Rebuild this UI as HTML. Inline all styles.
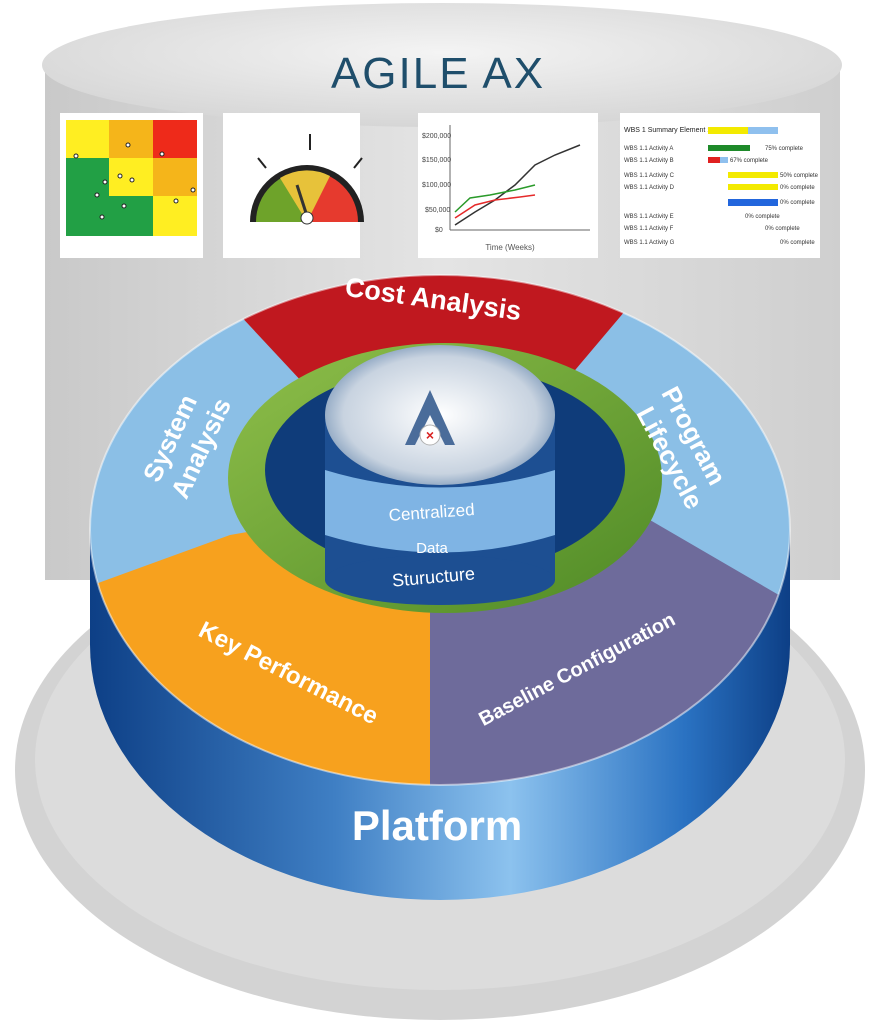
<!DOCTYPE html>
<html><head><meta charset="utf-8"><style>
html,body{margin:0;padding:0;background:#fff;}
svg{display:block;font-family:"Liberation Sans",sans-serif;}
</style></head><body>
<svg width="881" height="1024" viewBox="0 0 881 1024" xmlns="http://www.w3.org/2000/svg">
<defs>
<linearGradient id="cyl" x1="0" x2="1" y1="0" y2="0">
<stop offset="0" stop-color="#c9c9c9"/><stop offset="0.5" stop-color="#e4e4e4"/><stop offset="1" stop-color="#cfcfcf"/></linearGradient>
<radialGradient id="top" cx="0.5" cy="0.4" r="0.6"><stop offset="0" stop-color="#f4f4f4"/><stop offset="1" stop-color="#d6d6d6"/></radialGradient>
<linearGradient id="side" x1="0" x2="1"><stop offset="0" stop-color="#0d3f86"/><stop offset="0.35" stop-color="#3f7fc4"/><stop offset="0.6" stop-color="#8cc2ee"/><stop offset="0.85" stop-color="#2a72c2"/><stop offset="1" stop-color="#0d3f86"/></linearGradient>
<linearGradient id="green" x1="0" x2="1" y1="0" y2="1"><stop offset="0" stop-color="#8fbf4a"/><stop offset="1" stop-color="#4f8a26"/></linearGradient>
<radialGradient id="ctop" cx="0.5" cy="0.5" r="0.6"><stop offset="0" stop-color="#ffffff"/><stop offset="0.7" stop-color="#c8d3e0"/><stop offset="1" stop-color="#5b7fa8"/></radialGradient>
<clipPath id="face"><ellipse cx="440" cy="530" rx="350" ry="255"/></clipPath>
</defs>
<ellipse cx="440" cy="770" rx="425" ry="250" fill="#d3d3d3"/>
<ellipse cx="440" cy="760" rx="405" ry="230" fill="#dcdcdc"/>
<rect x="45" y="60" width="795" height="520" fill="url(#cyl)"/>
<ellipse cx="442" cy="65" rx="400" ry="62" fill="url(#top)"/>
<text x="438" y="88" text-anchor="middle" font-size="44" fill="#1f4e6b" letter-spacing="2">AGILE AX</text>
<rect x="60" y="113" width="143" height="145" fill="#fff"/>
<g>
<rect x="66" y="120" width="43" height="38" fill="#ffee22"/><rect x="109" y="120" width="44" height="38" fill="#f5b51a"/><rect x="153" y="120" width="44" height="38" fill="#ee2a1a"/>
<rect x="66" y="158" width="43" height="38" fill="#22a045"/><rect x="109" y="158" width="44" height="38" fill="#ffee22"/><rect x="153" y="158" width="44" height="38" fill="#f5b51a"/>
<rect x="66" y="196" width="43" height="40" fill="#22a045"/><rect x="109" y="196" width="44" height="40" fill="#22a045"/><rect x="153" y="196" width="44" height="40" fill="#ffee22"/>
<g fill="#fff" stroke="#222" stroke-width="1"><circle cx="76" cy="156" r="2"/><circle cx="128" cy="145" r="2"/><circle cx="120" cy="176" r="2"/><circle cx="132" cy="180" r="2"/><circle cx="105" cy="182" r="2"/><circle cx="97" cy="195" r="2"/><circle cx="124" cy="206" r="2"/><circle cx="102" cy="217" r="2"/><circle cx="162" cy="154" r="2"/><circle cx="176" cy="201" r="2"/><circle cx="193" cy="190" r="2"/></g>
</g>
<rect x="223" y="113" width="137" height="145" fill="#fff"/>
<path d="M250 222 A57 57 0 0 1 364 222 Z" fill="#222"/>
<path d="M256 222 A51 51 0 0 1 307 171 L307 222Z" fill="#6ea32a"/>
<path d="M307 171 A51 51 0 0 1 358 222 L307 222Z" fill="#e63a2e"/>
<path d="M280 178 A51 51 0 0 1 330 176 L307 222Z" fill="#e7c23a"/>
<g stroke="#222" stroke-width="2"><line x1="258" y1="158" x2="266" y2="168"/><line x1="310" y1="134" x2="310" y2="150"/><line x1="362" y1="158" x2="354" y2="168"/></g>
<line x1="307" y1="216" x2="297" y2="185" stroke="#333" stroke-width="3"/>
<circle cx="307" cy="218" r="6" fill="#fff" stroke="#333"/>
<rect x="418" y="113" width="180" height="145" fill="#fff"/>
<line x1="450" y1="125" x2="450" y2="230" stroke="#666"/><line x1="450" y1="230" x2="590" y2="230" stroke="#666"/>
<g font-size="7" fill="#444"><text x="422" y="138">$200,000</text><text x="422" y="162">$150,000</text><text x="422" y="187">$100,000</text><text x="425" y="212">$50,000</text><text x="435" y="232">$0</text></g>
<polyline points="455,225 475,212 495,200 515,185 535,165 555,155 580,145" fill="none" stroke="#333" stroke-width="1.5"/>
<polyline points="455,212 470,198 490,195 515,190 535,185" fill="none" stroke="#2a9a2a" stroke-width="1.5"/>
<polyline points="455,218 475,205 495,200 520,197 535,195" fill="none" stroke="#e52a2a" stroke-width="1.5"/>
<text x="510" y="250" font-size="8" fill="#555" text-anchor="middle">Time (Weeks)</text>
<rect x="620" y="113" width="200" height="145" fill="#fff"/>
<text x="624" y="132" font-size="7" fill="#222">WBS 1 Summary Element 1</text>
<rect x="708" y="127" width="40" height="7" fill="#f3ea00"/><rect x="748" y="127" width="30" height="7" fill="#8fc0ee"/>
<rect x="708" y="145" width="42" height="6" fill="#1e8a2a"/><rect x="708" y="157" width="12" height="6" fill="#e02020"/><rect x="720" y="157" width="8" height="6" fill="#8fc0ee"/>
<rect x="728" y="172" width="50" height="6" fill="#f3ea00"/><rect x="728" y="184" width="50" height="6" fill="#f3ea00"/>
<rect x="728" y="199" width="50" height="7" fill="#2266dd"/>
<g font-size="6" fill="#333"><text x="624" y="150">WBS 1.1 Activity A</text>
<text x="624" y="162">WBS 1.1 Activity B</text>
<text x="624" y="177">WBS 1.1 Activity C</text>
<text x="624" y="189">WBS 1.1 Activity D</text>
<text x="624" y="218">WBS 1.1 Activity E</text>
<text x="624" y="230">WBS 1.1 Activity F</text>
<text x="624" y="244">WBS 1.1 Activity G</text>
<text x="765" y="150">75% complete</text><text x="730" y="162">67% complete</text><text x="780" y="177">50% complete</text><text x="780" y="189">0% complete</text><text x="780" y="204">0% complete</text><text x="745" y="218">0% complete</text><text x="765" y="230">0% complete</text><text x="780" y="244">0% complete</text></g>
<!-- ring side -->
<ellipse cx="440" cy="645" rx="350" ry="255" fill="url(#side)"/>
<rect x="90" y="530" width="700" height="115" fill="url(#side)"/>
<g clip-path="url(#face)">
<rect x="0" y="200" width="881" height="700" fill="#8bbfe6"/>
<polygon points="440,530 86,150 761,150" fill="#c0181f"/>
<polygon points="430,500 230,535 -300,728 -300,1000 430,1000" fill="#f7a11e"/>
<polygon points="430,500 650,520 1100,782 1100,1000 430,1000" fill="#6e6b9b"/>
</g>
<ellipse cx="440" cy="530" rx="350" ry="255" fill="none" stroke="#ffffff" stroke-width="2" opacity="0.5"/>
<ellipse cx="445" cy="478" rx="217" ry="135" fill="url(#green)"/>
<ellipse cx="445" cy="470" rx="180" ry="105" fill="#0f3c7a"/>
<rect x="325" y="420" width="230" height="160" fill="#1d4f92"/>
<ellipse cx="440" cy="580" rx="115" ry="25" fill="#1d4f92"/>
<path d="M325 470 Q440 505 555 470 L555 535 Q440 570 325 535Z" fill="#7fb4e4"/>
<ellipse cx="440" cy="415" rx="115" ry="70" fill="url(#ctop)"/>
<path d="M405 445 L430 390 L455 445 L445 445 L430 415 L415 445Z" fill="#4a6c9a"/>
<circle cx="430" cy="435" r="10" fill="#fff" stroke="#b0b0b0"/>
<text x="430" y="440" text-anchor="middle" font-size="14" font-weight="bold" fill="#d92020">×</text>
<text x="432" y="518" text-anchor="middle" font-size="17" fill="#fff" transform="rotate(-4 432 518)">Centralized</text>
<text x="432" y="553" text-anchor="middle" font-size="15" fill="#fff">Data</text>
<text x="434" y="583" text-anchor="middle" font-size="18" fill="#fff" transform="rotate(-5 434 583)">Sturucture</text>
<text x="432" y="308" text-anchor="middle" font-size="27" font-weight="bold" fill="#fff" transform="rotate(8 432 308)">Cost Analysis</text>
<text x="178" y="442" text-anchor="middle" font-size="26" font-weight="bold" fill="#fff" transform="rotate(-65 178 442)">System</text>
<text x="209" y="452" text-anchor="middle" font-size="26" font-weight="bold" fill="#fff" transform="rotate(-65 209 452)">Analysis</text>
<text x="686" y="440" text-anchor="middle" font-size="26" font-weight="bold" fill="#fff" transform="rotate(62 686 440)">Program</text>
<text x="662" y="462" text-anchor="middle" font-size="26" font-weight="bold" fill="#fff" transform="rotate(62 662 462)">Lifecycle</text>
<text x="285" y="680" text-anchor="middle" font-size="24" font-weight="bold" fill="#fff" transform="rotate(27 285 680)">Key Performance</text>
<text x="580" y="675" text-anchor="middle" font-size="20" font-weight="bold" fill="#fff" transform="rotate(-28 580 675)">Baseline Configuration</text>
<text x="437" y="840" text-anchor="middle" font-size="42" font-weight="bold" fill="#fff">Platform</text>
</svg>
</body></html>
